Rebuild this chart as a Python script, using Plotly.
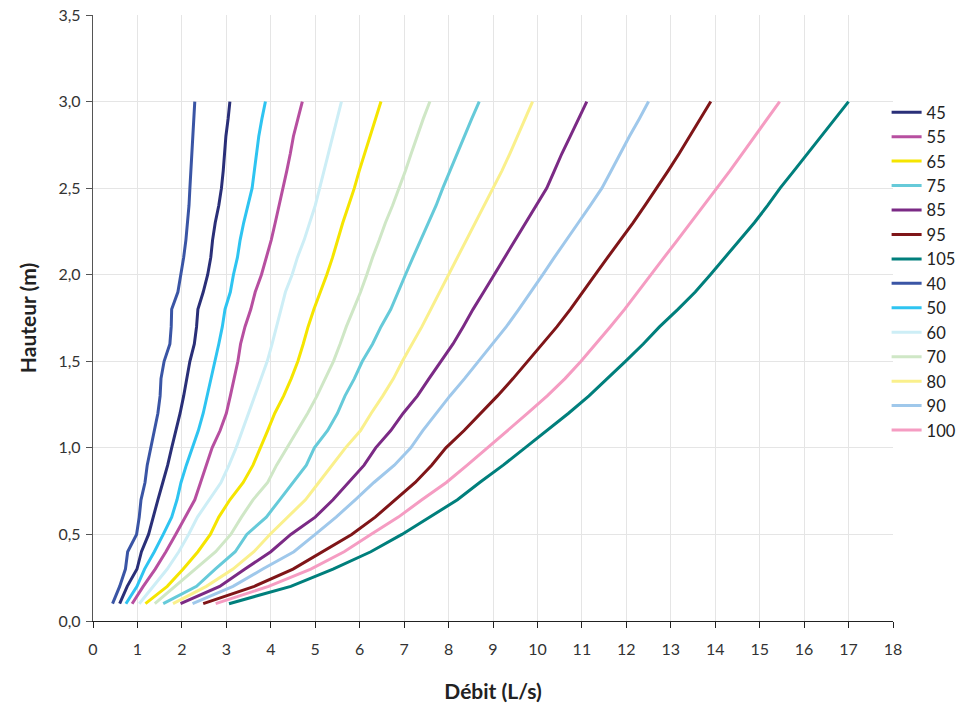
import plotly.graph_objects as go

# Hauteur (m) levels shared by all curves
hauteur = [0.1, 0.2, 0.3, 0.4, 0.5, 0.6, 0.7, 0.8, 0.9, 1.0,
           1.1, 1.2, 1.3, 1.4, 1.5, 1.6, 1.7, 1.8, 1.9, 2.0,
           2.1, 2.2, 2.3, 2.4, 2.5, 2.6, 2.7, 2.8, 2.9, 3.0]

# Débit (L/s) read for each series
debit_40 = [0.44, 0.60, 0.73, 0.78, 0.98, 1.04, 1.08, 1.17, 1.22, 1.30,
            1.38, 1.46, 1.51, 1.53, 1.60, 1.73, 1.76, 1.77, 1.91, 1.98,
            2.04, 2.09, 2.13, 2.16, 2.18, 2.20, 2.22, 2.24, 2.26, 2.29]
debit_45 = [0.60, 0.77, 0.99, 1.09, 1.25, 1.35, 1.46, 1.57, 1.68, 1.77,
            1.87, 1.96, 2.04, 2.11, 2.18, 2.28, 2.33, 2.36, 2.48, 2.58,
            2.65, 2.69, 2.75, 2.83, 2.89, 2.93, 2.96, 2.99, 3.04, 3.08]
debit_50 = [0.74, 0.99, 1.16, 1.38, 1.58, 1.77, 1.89, 1.98, 2.10, 2.23,
            2.37, 2.48, 2.57, 2.66, 2.75, 2.83, 2.91, 2.97, 3.09, 3.16,
            3.25, 3.31, 3.39, 3.49, 3.58, 3.63, 3.68, 3.73, 3.80, 3.88]
debit_55 = [0.88, 1.13, 1.40, 1.64, 1.86, 2.08, 2.29, 2.42, 2.55, 2.68,
            2.86, 3.00, 3.09, 3.17, 3.26, 3.32, 3.42, 3.55, 3.65, 3.79,
            3.90, 4.01, 4.10, 4.19, 4.28, 4.36, 4.44, 4.51, 4.61, 4.71]
debit_60 = [1.04, 1.36, 1.67, 1.93, 2.15, 2.35, 2.62, 2.88, 3.06, 3.22,
            3.36, 3.50, 3.64, 3.79, 3.92, 4.03, 4.13, 4.22, 4.33, 4.48,
            4.60, 4.75, 4.88, 5.00, 5.10, 5.20, 5.29, 5.39, 5.49, 5.59]
debit_65 = [1.18, 1.67, 2.03, 2.36, 2.64, 2.83, 3.08, 3.38, 3.60, 3.77,
            3.93, 4.09, 4.29, 4.46, 4.61, 4.73, 4.84, 4.97, 5.12, 5.26,
            5.39, 5.50, 5.62, 5.75, 5.88, 5.99, 6.11, 6.23, 6.35, 6.48]
debit_70 = [1.39, 1.84, 2.29, 2.76, 3.10, 3.34, 3.60, 3.93, 4.13, 4.37,
            4.60, 4.83, 5.04, 5.22, 5.41, 5.56, 5.70, 5.86, 6.02, 6.16,
            6.29, 6.44, 6.58, 6.74, 6.89, 7.03, 7.16, 7.29, 7.43, 7.58]
debit_75 = [1.58, 2.33, 2.75, 3.20, 3.46, 3.90, 4.20, 4.50, 4.80, 4.98,
            5.28, 5.50, 5.67, 5.88, 6.06, 6.29, 6.48, 6.70, 6.86, 7.03,
            7.20, 7.37, 7.55, 7.72, 7.87, 8.03, 8.19, 8.36, 8.52, 8.69]
debit_80 = [1.80, 2.55, 3.15, 3.62, 3.98, 4.38, 4.78, 5.08, 5.38, 5.68,
            6.02, 6.26, 6.52, 6.76, 6.96, 7.18, 7.40, 7.60, 7.80, 8.01,
            8.20, 8.40, 8.60, 8.81, 9.01, 9.20, 9.38, 9.55, 9.72, 9.89]
debit_85 = [1.97, 2.85, 3.42, 4.00, 4.45, 5.00, 5.40, 5.76, 6.10, 6.36,
            6.70, 6.98, 7.30, 7.56, 7.83, 8.10, 8.33, 8.55, 8.79, 9.03,
            9.27, 9.50, 9.75, 9.99, 10.21, 10.38, 10.55, 10.74, 10.93, 11.11]
debit_90 = [2.24, 3.15, 3.82, 4.52, 5.00, 5.47, 5.90, 6.32, 6.78, 7.15,
            7.42, 7.72, 8.03, 8.36, 8.68, 9.00, 9.30, 9.58, 9.86, 10.12,
            10.38, 10.64, 10.92, 11.19, 11.45, 11.66, 11.86, 12.07, 12.29, 12.50]
debit_95 = [2.48, 3.63, 4.50, 5.15, 5.82, 6.35, 6.80, 7.25, 7.62, 7.94,
            8.35, 8.73, 9.10, 9.45, 9.78, 10.12, 10.44, 10.74, 11.03, 11.30,
            11.58, 11.87, 12.15, 12.42, 12.69, 12.94, 13.19, 13.43, 13.66, 13.90]
debit_100 = [2.76, 3.95, 4.90, 5.65, 6.25, 6.87, 7.40, 7.95, 8.42, 8.88,
             9.33, 9.78, 10.22, 10.62, 10.98, 11.32, 11.64, 11.96, 12.25, 12.54,
             12.85, 13.15, 13.45, 13.75, 14.04, 14.33, 14.61, 14.89, 15.17, 15.45]
debit_105 = [3.06, 4.45, 5.40, 6.25, 6.95, 7.58, 8.20, 8.70, 9.23, 9.72,
             10.22, 10.70, 11.16, 11.58, 11.98, 12.38, 12.75, 13.16, 13.55, 13.89,
             14.22, 14.56, 14.88, 15.18, 15.46, 15.77, 16.08, 16.38, 16.69, 17.00]

series_names = ["45", "55", "65", "75", "85", "95", "105",
                "40", "50", "60", "70", "80", "90", "100"]
series_values = [debit_45, debit_55, debit_65, debit_75, debit_85, debit_95, debit_105,
                 debit_40, debit_50, debit_60, debit_70, debit_80, debit_90, debit_100]
series_colors = ["#2a2f78", "#b74fa0", "#f5e500", "#66cad9", "#7b2a85", "#7f1518", "#007f7c",
                 "#3a55a5", "#2ec4f1", "#cdeef6", "#cfe7c6", "#faf08c", "#9fc8eb", "#f59cc2"]

FONT = "Lato, 'Open Sans', sans-serif"

fig = go.Figure()
for name, xs, col in zip(series_names, series_values, series_colors):
    fig.add_trace(go.Scatter(x=xs, y=hauteur, mode="lines", name=name,
                             line=dict(color=col, width=3)))

fig.update_layout(
    width=958, height=705,
    margin=dict(l=93, r=65, t=15, b=84, autoexpand=False),
    paper_bgcolor="white", plot_bgcolor="white",
    separators=", ",
    font=dict(family=FONT, size=15, color="#333333"),
    legend=dict(x=0.992, xanchor="left", y=0.868, yanchor="top",
                font=dict(family=FONT, size=16.5, color="#222222"),
                itemwidth=30, tracegroupgap=0, bgcolor="rgba(0,0,0,0)"),
    showlegend=True,
)
fig.update_xaxes(
    range=[0, 18], dtick=1, tick0=0,
    showgrid=True, gridcolor="#e5e5e5", gridwidth=1, zeroline=False,
    showline=True, linecolor="#222222", linewidth=1.3,
    ticks="outside", ticklen=6, tickcolor="#222222",
    ticklabelstandoff=8,
    tickfont=dict(family=FONT, size=16, color="#333333"),
    title=dict(text="Débit (L/s)", standoff=26,
               font=dict(family=FONT, size=21, color="#222222", weight="bold")),
)
fig.update_yaxes(
    range=[0, 3.5], dtick=0.5, tick0=0, tickformat=".1f",
    showgrid=True, gridcolor="#e5e5e5", gridwidth=1, zeroline=False,
    showline=True, linecolor="#555555", linewidth=1.3,
    ticks="outside", ticklen=6, tickcolor="#555555",
    ticklabelstandoff=2,
    tickfont=dict(family=FONT, size=16, color="#333333"),
    title=dict(text="Hauteur (m)", standoff=16,
               font=dict(family=FONT, size=21, color="#222222", weight="bold")),
)

fig.write_html("out.html", config={"displayModeBar": False},
               post_script="document.body.style.margin='0';")
